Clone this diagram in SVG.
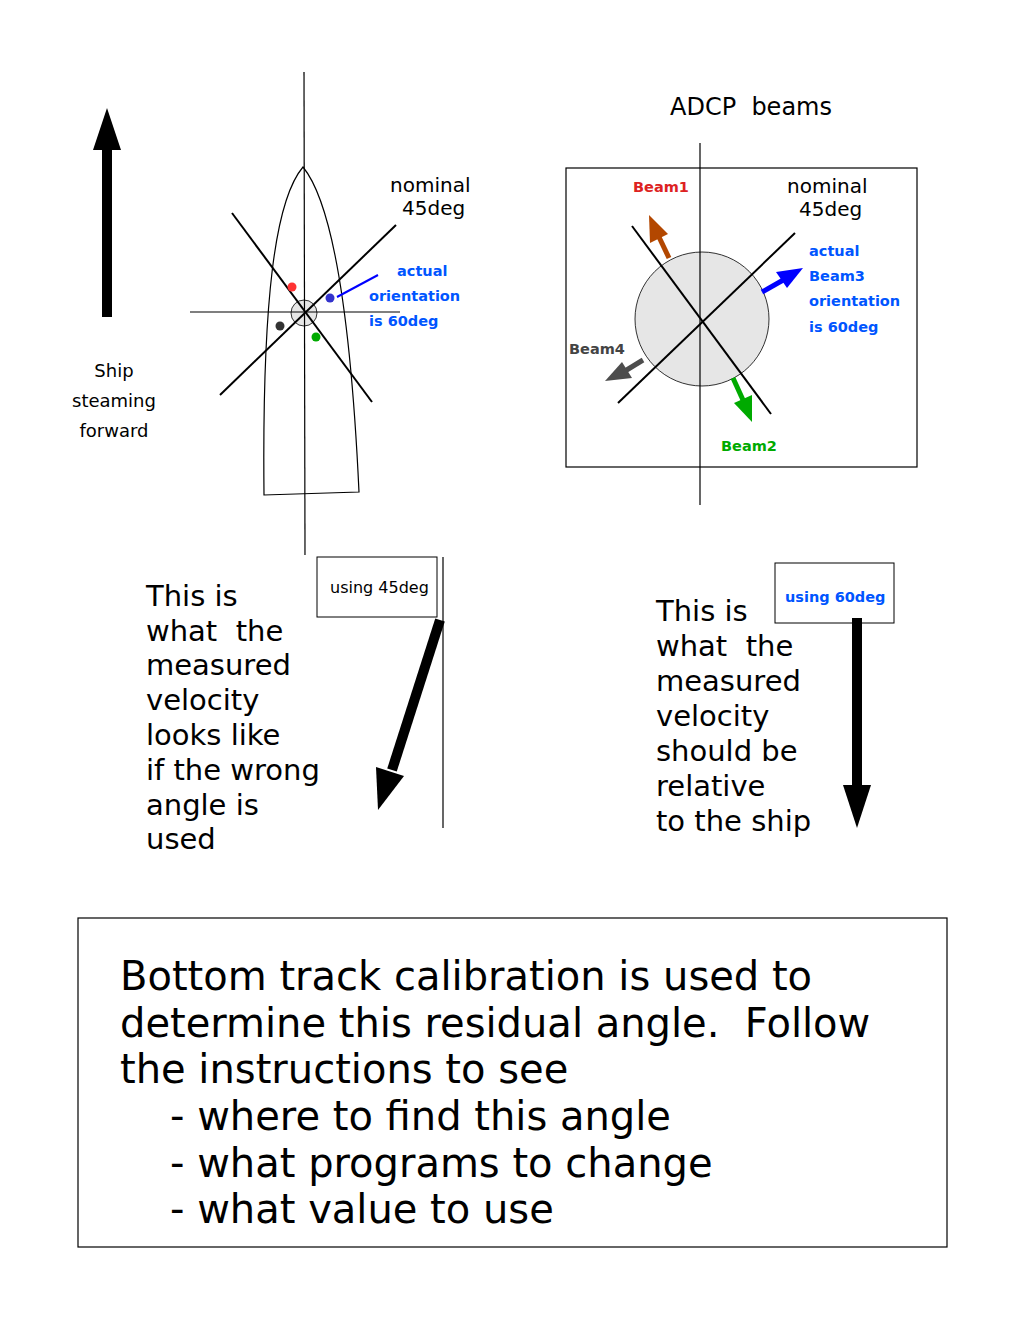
<svg xmlns="http://www.w3.org/2000/svg" width="1020" height="1320" viewBox="0 0 1020 1320">
<style>
text{font-family:"DejaVu Sans",sans-serif;white-space:pre}
.ln{stroke:#000;stroke-width:1.2;fill:none}
.th{stroke:#000;stroke-width:2;fill:none}
.b{font-weight:bold;font-size:14.5px}
.m{font-size:20px}
.big{font-size:29px}
.bt{font-size:40px}
</style>
<rect width="1020" height="1320" fill="#fff"/>
<g id="ship">
<circle cx="304" cy="313" r="13" fill="#e6e6e6" stroke="#000" stroke-width="0.8"/>
<line class="ln" x1="304" y1="72" x2="305" y2="555"/>
<line class="ln" x1="190" y1="312" x2="400" y2="312"/>
<path class="ln" d="M264,495 C262,300 275,200 303,167 C330,200 350,300 359,492 Z"/>
<line class="th" x1="232" y1="213" x2="372" y2="402"/>
<line class="th" x1="220" y1="395" x2="396" y2="225"/>
<circle cx="292" cy="287" r="4.5" fill="#f33"/>
<circle cx="330" cy="298" r="4.5" fill="#33c"/>
<circle cx="280" cy="326" r="4.5" fill="#333"/>
<circle cx="316" cy="337" r="4.5" fill="#0a0"/>
<line x1="337" y1="297" x2="378" y2="275" stroke="#00f" stroke-width="2"/>
<text x="390" y="192" class="m">nominal</text>
<text x="402" y="215" class="m">45deg</text>
<text x="397" y="276" class="b" fill="#05f">actual</text>
<text x="369" y="301" class="b" fill="#05f">orientation</text>
<text x="369" y="326" class="b" fill="#05f">is 60deg</text>
</g>
<g id="forward">
<rect x="102" y="148" width="10" height="169" fill="#000"/>
<polygon points="93,150 107,108 121,150" fill="#000"/>
<text x="114" y="377" font-size="18" text-anchor="middle">Ship</text>
<text x="114" y="407" font-size="18" text-anchor="middle">steaming</text>
<text x="114" y="437" font-size="18" text-anchor="middle">forward</text>
</g>
<g id="adcp">
<text x="751" y="115" font-size="24" text-anchor="middle">ADCP  beams</text>
<rect x="566" y="168" width="351" height="299" fill="none" stroke="#000" stroke-width="1.2"/>
<circle cx="702" cy="319" r="67" fill="#e6e6e6" stroke="#000" stroke-width="0.8"/>
<line class="ln" x1="700" y1="143" x2="700" y2="505"/>
<line class="th" x1="632" y1="226" x2="771" y2="414"/>
<line class="th" x1="618" y1="403" x2="795" y2="233"/>
<line x1="669" y1="258" x2="659" y2="237" stroke="#b34700" stroke-width="5"/>
<polygon points="649,215 650,243 668,234" fill="#b34700"/>
<line x1="762" y1="292" x2="785" y2="279" stroke="#00f" stroke-width="5"/>
<polygon points="803,268 776,272 787,288" fill="#00f"/>
<line x1="643" y1="360" x2="625" y2="371" stroke="#4d4d4d" stroke-width="5"/>
<polygon points="605,381 632,378 622,362" fill="#4d4d4d"/>
<line x1="733" y1="378" x2="743" y2="400" stroke="#0a0" stroke-width="5"/>
<polygon points="752,422 752,395 734,403" fill="#0a0"/>
<text x="633" y="192" class="b" fill="#d22">Beam1</text>
<text x="787" y="193" class="m">nominal</text>
<text x="799" y="216" class="m">45deg</text>
<text x="809" y="256" class="b" fill="#05f">actual</text>
<text x="809" y="281" class="b" fill="#05f">Beam3</text>
<text x="809" y="306" class="b" fill="#05f">orientation</text>
<text x="809" y="332" class="b" fill="#05f">is 60deg</text>
<text x="569" y="354" class="b" fill="#444">Beam4</text>
<text x="721" y="451" class="b" fill="#0a0">Beam2</text>
</g>
<g id="wrong">
<line class="ln" x1="443" y1="557" x2="443" y2="828"/>
<rect x="317" y="557" width="120" height="60" fill="#fff" stroke="#000"/>
<text x="330" y="593" font-size="16">using 45deg</text>
<line x1="440" y1="620" x2="392" y2="770" stroke="#000" stroke-width="10"/>
<polygon points="378,810 376,767 404,776" fill="#000"/>
<g class="big"><text x="146" y="606">This is</text><text x="146" y="641">what  the</text><text x="146" y="675">measured</text><text x="146" y="710">velocity</text><text x="146" y="745">looks like</text><text x="146" y="780">if the wrong</text><text x="146" y="815">angle is</text><text x="146" y="849">used</text></g>
</g>
<g id="right">
<rect x="775" y="563" width="119" height="60" fill="#fff" stroke="#000"/>
<text x="785" y="602" class="b" fill="#05f">using 60deg</text>
<rect x="852" y="618" width="10" height="170" fill="#000"/>
<polygon points="843,785 857,828 871,785" fill="#000"/>
<g class="big"><text x="656" y="621">This is</text><text x="656" y="656">what  the</text><text x="656" y="691">measured</text><text x="656" y="726">velocity</text><text x="656" y="761">should be</text><text x="656" y="796">relative</text><text x="656" y="831">to the ship</text></g>
</g>
<g id="note">
<rect x="78" y="918" width="869" height="329" fill="none" stroke="#000" stroke-width="1.2"/>
<g class="bt"><text x="120" y="990">Bottom track calibration is used to</text><text x="120" y="1037">determine this residual angle.  Follow</text><text x="120" y="1083">the instructions to see</text><text x="170" y="1130">- where to find this angle</text><text x="170" y="1177">- what programs to change</text><text x="170" y="1223">- what value to use</text></g>
</g>
</svg>
